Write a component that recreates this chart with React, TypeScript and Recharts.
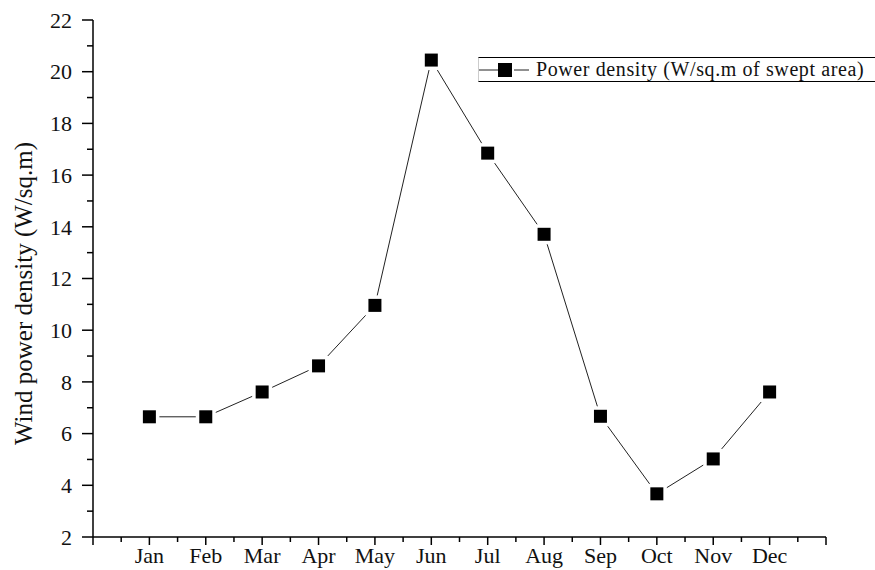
import React from 'react';
import { LineChart, Line, XAxis, YAxis } from 'recharts';

const months = ['Jan', 'Feb', 'Mar', 'Apr', 'May', 'Jun', 'Jul', 'Aug', 'Sep', 'Oct', 'Nov', 'Dec'];
const monthPositions = [1, 2, 3, 4, 5, 6, 7, 8, 9, 10, 11, 12];
const powerDensity = [6.65, 6.65, 7.61, 8.62, 10.96, 20.45, 16.85, 13.71, 6.67, 3.67, 5.02, 7.61];
const xTickValues = [0, 0.5, 1, 1.5, 2, 2.5, 3, 3.5, 4, 4.5, 5, 5.5, 6, 6.5, 7, 7.5, 8, 8.5, 9, 9.5, 10, 10.5, 11, 11.5, 12, 12.5, 13];
const yTickValues = [2, 3, 4, 5, 6, 7, 8, 9, 10, 11, 12, 13, 14, 15, 16, 17, 18, 19, 20, 21, 22];
const seriesName = 'Power density (W/sq.m of swept area)';
const yTitle = 'Wind power density (W/sq.m)';

const data = months.map((m, i) => ({ x: monthPositions[i], month: m, value: powerDensity[i] }));

const FONT = '"Liberation Serif", "Times New Roman", serif';

const XTick = (props: any) => {
  const { x, y, payload } = props;
  const v = payload.value;
  const major = Number.isInteger(v);
  const idx = monthPositions.indexOf(v);
  return (
    <g>
      <line x1={x} y1={y} x2={x} y2={y + (major ? 8 : 5)} stroke="#000" strokeWidth={1.5} />
      {idx >= 0 && (
        <text x={x} y={y + 26} textAnchor="middle" fontFamily={FONT} fontSize={22} fill="#111">
          {months[idx]}
        </text>
      )}
    </g>
  );
};

const YTick = (props: any) => {
  const { x, y, payload } = props;
  const v = payload.value;
  const major = v % 2 === 0;
  return (
    <g>
      <line x1={x} y1={y} x2={x - (major ? 11 : 6)} y2={y} stroke="#000" strokeWidth={1.5} />
      {major && (
        <text x={x - 21} y={y} dy="0.35em" textAnchor="end" fontFamily={FONT} fontSize={22} fill="#111">
          {v}
        </text>
      )}
    </g>
  );
};

const YTitle = (props: any) => {
  const vb = props.viewBox || { x: 0, y: 20, width: 93, height: 517 };
  const cx = 23;
  const cy = vb.y + vb.height / 2 + 15;
  return (
    <text
      x={cx}
      y={cy}
      transform={`rotate(-90 ${cx} ${cy})`}
      textAnchor="middle"
      dominantBaseline="central"
      fontFamily={FONT}
      fontSize={25}
      fill="#111"
    >
      {yTitle}
    </text>
  );
};

const SquareDot = (props: any) => {
  const { cx, cy, index } = props;
  if (cx == null || cy == null) return <g key={index} />;
  return (
    <g key={index}>
      <rect x={cx - 10} y={cy - 10} width={20} height={20} fill="#fff" />
      <rect x={cx - 6.5} y={cy - 6.5} width={13} height={13} fill="#000" />
    </g>
  );
};

export default function App() {
  return (
    <div style={{ position: 'absolute', left: 0, top: 0, width: 875, height: 570, overflow: 'hidden', background: '#fff' }}>
      <LineChart width={875} height={570} data={data} margin={{ top: 20, right: 49, bottom: 0, left: 0 }}>
        <XAxis
          type="number"
          dataKey="x"
          domain={[0, 13]}
          ticks={xTickValues}
          interval={0}
          allowDecimals
          tickLine={false}
          tickSize={0}
          tickMargin={0}
          height={33}
          axisLine={{ stroke: '#000', strokeWidth: 1.5 }}
          tick={<XTick />}
        />
        <YAxis
          type="number"
          domain={[2, 22]}
          ticks={yTickValues}
          interval={0}
          tickLine={false}
          tickSize={0}
          tickMargin={0}
          width={93}
          axisLine={{ stroke: '#000', strokeWidth: 1.5 }}
          tick={<YTick />}
          label={<YTitle />}
        />
        <Line
          type="linear"
          dataKey="value"
          name={seriesName}
          stroke="#222"
          strokeWidth={1}
          dot={<SquareDot />}
          activeDot={false}
          isAnimationActive={false}
        />
      </LineChart>
      <div
        style={{
          position: 'absolute',
          left: 478,
          top: 57,
          width: 397,
          height: 25,
          borderTop: '1.3px solid #000',
          borderBottom: '1.3px solid #000',
          borderLeft: '1px solid #ccc',
          display: 'flex',
          alignItems: 'center',
          boxSizing: 'border-box',
        }}
      >
        <svg width={52} height={20} style={{ display: 'block', flex: 'none' }}>
          <line x1={0} y1={10} x2={19} y2={10} stroke="#222" strokeWidth={1} />
          <rect x={19} y={3} width={14} height={14} fill="#000" />
          <line x1={35} y1={10} x2={50} y2={10} stroke="#222" strokeWidth={1} />
        </svg>
        <span style={{ marginLeft: 5, fontFamily: FONT, fontSize: 20, letterSpacing: 0.6, color: '#111', whiteSpace: 'nowrap' }}>
          {seriesName}
        </span>
      </div>
    </div>
  );
}
